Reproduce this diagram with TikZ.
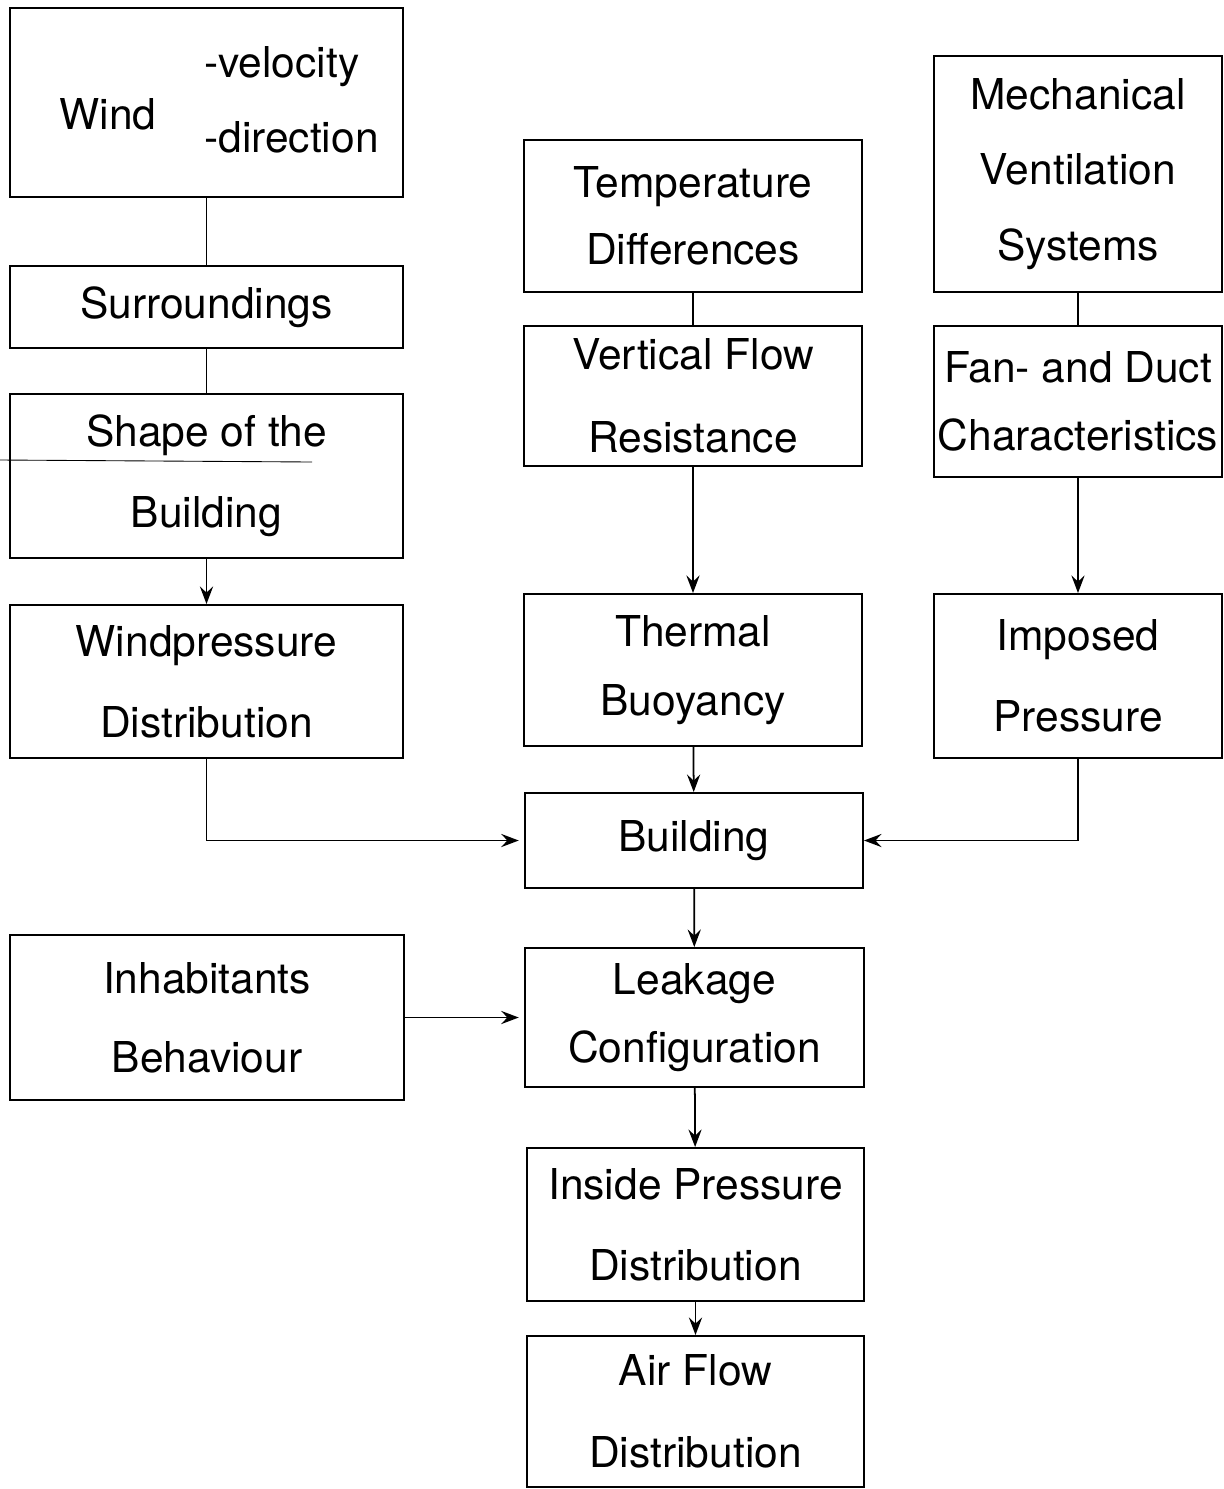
\documentclass[tikz,border=0pt]{standalone}
\usepackage{fontspec}
\setmainfont{TeX Gyre Heros}
\usetikzlibrary{arrows.meta}

\begin{document}
\begin{tikzpicture}[x=0.02cm, y=-0.02cm,
    blk/.style 2 args={draw, line width=1.1pt, inner sep=0pt, align=center,
      minimum width=#1*0.02cm, minimum height=#2*0.02cm},
    lsp/.style={font=\fontsize{24.2}{#1}\selectfont},
    link/.style={line width=1pt},
    arr/.style={line width=1pt, -{Stealth[length=10pt, width=7.5pt, inset=3.5pt]}}]
    \useasboundingbox (0,0) rectangle (1224,1489);
    % left column
    \node[blk={393}{189}] (wind) at (206.5,102.5) {};
    \node[lsp=28, anchor=center] (windlbl) at (108,114) {Wind};
    \node[lsp=28, anchor=west] (windvel) at (198,67) {-velocity};
    \node[lsp=28, anchor=west] (winddir) at (198,137) {-direction};
    \node[blk={393}{82}, lsp=28] (surr) at (206.5,307) {Surroundings};
    \node[blk={393}{164}, lsp=46] (shape) at (206.5,476) {Shape of the\\Building};
    \node[blk={393}{153}, lsp=46] (wpress) at (206.5,681.5) {Windpressure\\Distribution};
    \node[blk={394}{165}, lsp=45] (inhab) at (207,1017.5) {Inhabitants\\Behaviour};
    % middle column
    \node[blk={338}{152}, lsp=38] (temp) at (693,216) {Temperature\\Differences};
    \node[blk={338}{140}, lsp=47] (vflow) at (693,396) {Vertical Flow\\Resistance};
    \node[blk={338}{152}, lsp=39] (therm) at (693,670) {Thermal\\Buoyancy};
    \node[blk={338}{95}, lsp=28] (bldg) at (694,840.5) {Building};
    \node[blk={339}{139}, lsp=39] (leak) at (694.5,1017.5) {Leakage\\Configuration};
    \node[blk={337}{153}, lsp=46] (inside) at (695.5,1224.5) {Inside Pressure\\Distribution};
    \node[blk={337}{151}, lsp=47] (airflow) at (695.5,1411.5) {Air Flow\\Distribution};
    % right column
    \node[blk={288}{236}, lsp=43] (mech) at (1078,174) {Mechanical\\Ventilation\\Systems};
    \node[blk={288}{151}, lsp=39] (fan) at (1078,401.5) {Fan- and Duct\\Characteristics};
    \node[blk={288}{164}, lsp=46] (imposed) at (1078,676) {Imposed\\Pressure};
    % stray scan line
    \draw[line width=0.5pt] (0,460) -- (312,462);

    \draw[link] (wind) -- (surr);
    \draw[link] (surr) -- (shape);
    \draw[arr] (shape) -- (wpress);
    \draw[arr] (wpress.south) |- ([xshift=-3pt]bldg.west);
    \draw[link] (temp) -- (vflow);
    \draw[arr] (vflow) -- (therm);
    \draw[arr] (therm) -- (bldg);
    \draw[link] (mech) -- (fan);
    \draw[arr] (fan) -- (imposed);
    \draw[arr] (imposed.south) |- (bldg.east);
    \draw[arr] (bldg) -- (leak);
    \draw[arr] (inhab) -- ([xshift=-3pt]leak.west);
    \draw[arr] (leak) -- (inside);
    \draw[arr] (inside) -- (airflow);
  \end{tikzpicture}
\end{document}
